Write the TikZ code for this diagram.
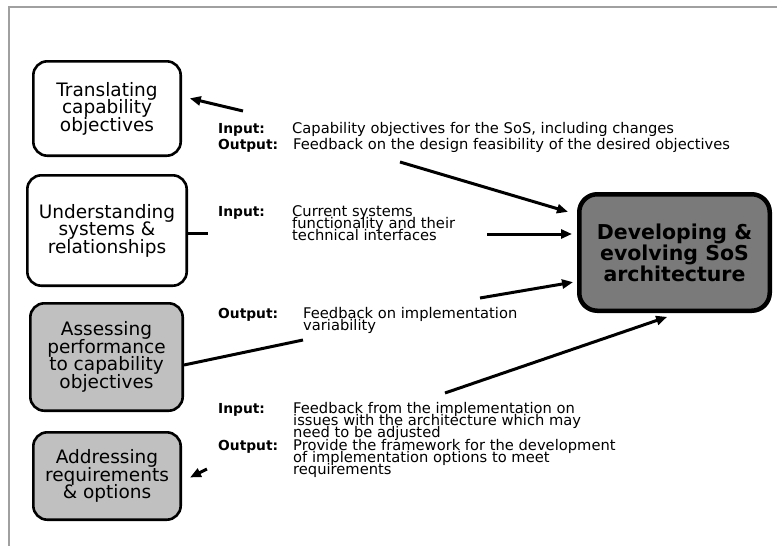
\documentclass[tikz,border=0pt]{standalone}
\usepackage{fontspec}
\setmainfont{DejaVu Sans}
\usetikzlibrary{arrows.meta}
\newcommand\rsBox{\fontsize{18.5}{17.5}\selectfont\lineskiplimit=-100pt\lineskip=0pt}
\newcommand\rsBig{\fontsize{20.5}{21}\selectfont\bfseries\lineskiplimit=-100pt\lineskip=0pt}
\newcommand\rsTxt{\fontsize{14.7}{12.4}\selectfont\lineskiplimit=-100pt\lineskip=0pt}
\newcommand\rsLab{\fontsize{13.8}{12.4}\selectfont\bfseries}
\definecolor{frame}{HTML}{A0A0A0}
\definecolor{lightfill}{HTML}{C0C0C0}
\definecolor{darkfill}{HTML}{7A7A7A}
\begin{document}
\begin{tikzpicture}[x=1pt,y=-1pt,
  box/.style={draw=black, line width=2.6pt, rounded corners=14pt, align=center,
    inner sep=0pt, font=\rsBox, fill=white},
  bigbox/.style={draw=black, line width=4.5pt, rounded corners=18pt, align=center,
    inner sep=0pt, font=\rsBig, fill=darkfill},
  txt/.style={anchor=base west, inner sep=0pt, align=left, font=\rsTxt},
  lab/.style={anchor=base west, inner sep=0pt, font=\rsLab},
  arr/.style={line width=3pt, -{Triangle[length=11pt,width=9pt]}},
  stub/.style={line width=3pt}]
\useasboundingbox (0,0) rectangle (777,546);
\draw[frame, line width=1.5pt] (9,546) -- (9,7) -- (777,7);

% boxes
\node[box, minimum width=147.4pt, minimum height=94.4pt] (b1) at (107,108.5)
  {Translating\\capability\\objectives};
\node[box, minimum width=159.4pt, minimum height=110.4pt] (b2) at (107,230.5)
  {Understanding\\systems \&\\relationships};
\node[box, fill=lightfill, minimum width=152.4pt, minimum height=107.4pt] (b3) at (106.5,357)
  {Assessing\\performance\\to capability\\objectives};
\node[box, fill=lightfill, minimum width=147.4pt, minimum height=87.4pt] (b4) at (107,476)
  {Addressing\\requirements\\\& options};
\node[bigbox, minimum width=190.5pt, minimum height=116.5pt] (big) at (674.5,252.5)
  {Developing \&\\evolving SoS\\architecture};

% texts (multi-line nodes are anchored at the baseline of their last line)
\node[lab] (i1) at (218,133) {Input:};
\node[txt] (t1) at (292,133) {Capability objectives for the SoS, including changes};
\node[lab] (o1) at (218,149) {Output:};
\node[txt] (t1b) at (293,149) {Feedback on the design feasibility of the desired objectives};
\node[lab] (i2) at (218,216) {Input:};
\node[txt] (t2) at (292,240.8) {Current systems\\functionality and their\\technical interfaces};
\node[lab] (o3) at (218,318) {Output:};
\node[txt] (t3) at (303,330.4) {Feedback on implementation\\variability};
\node[lab] (i4) at (218,413) {Input:};
\node[txt] (t4) at (293,437.8) {Feedback from the implementation on\\issues with the architecture which may\\need to be adjusted};
\node[lab] (o4) at (218,450) {Output:};
\node[txt] (t4b) at (293,474.8) {Provide the framework for the development\\of implementation options to meet\\requirements};

% connectors
\coordinate (s1) at (243,111);
\coordinate (s2) at (400,162);
\coordinate (c3) at (208,233);
\coordinate (s3) at (487,234);
\coordinate (c4) at (303,340);
\coordinate (s4) at (480,298);
\coordinate (s5) at (445,393);
\coordinate (s6) at (207,469);
\draw[arr, shorten >=8pt] (s1) -- ([yshift=12pt]b1.east);
\draw[arr, shorten >=9.4pt] (s2) -- ([yshift=38pt]big.west);
\draw[stub] ([yshift=-2.5pt]b2.east) -- (c3);
\draw[arr, shorten >=5pt] (s3) -- ([yshift=18.5pt]big.west);
\draw[stub] ([yshift=-8pt]b3.east) -- (c4);
\draw[arr, shorten >=4pt] (s4) -- ([yshift=-29pt]big.west);
\draw[arr, shorten >=12pt] (s5) -- ([xshift=4pt]big.south);
\draw[arr, shorten >=9pt] (s6) -- ([yshift=-5.5pt]b4.east);
\end{tikzpicture}
\end{document}
